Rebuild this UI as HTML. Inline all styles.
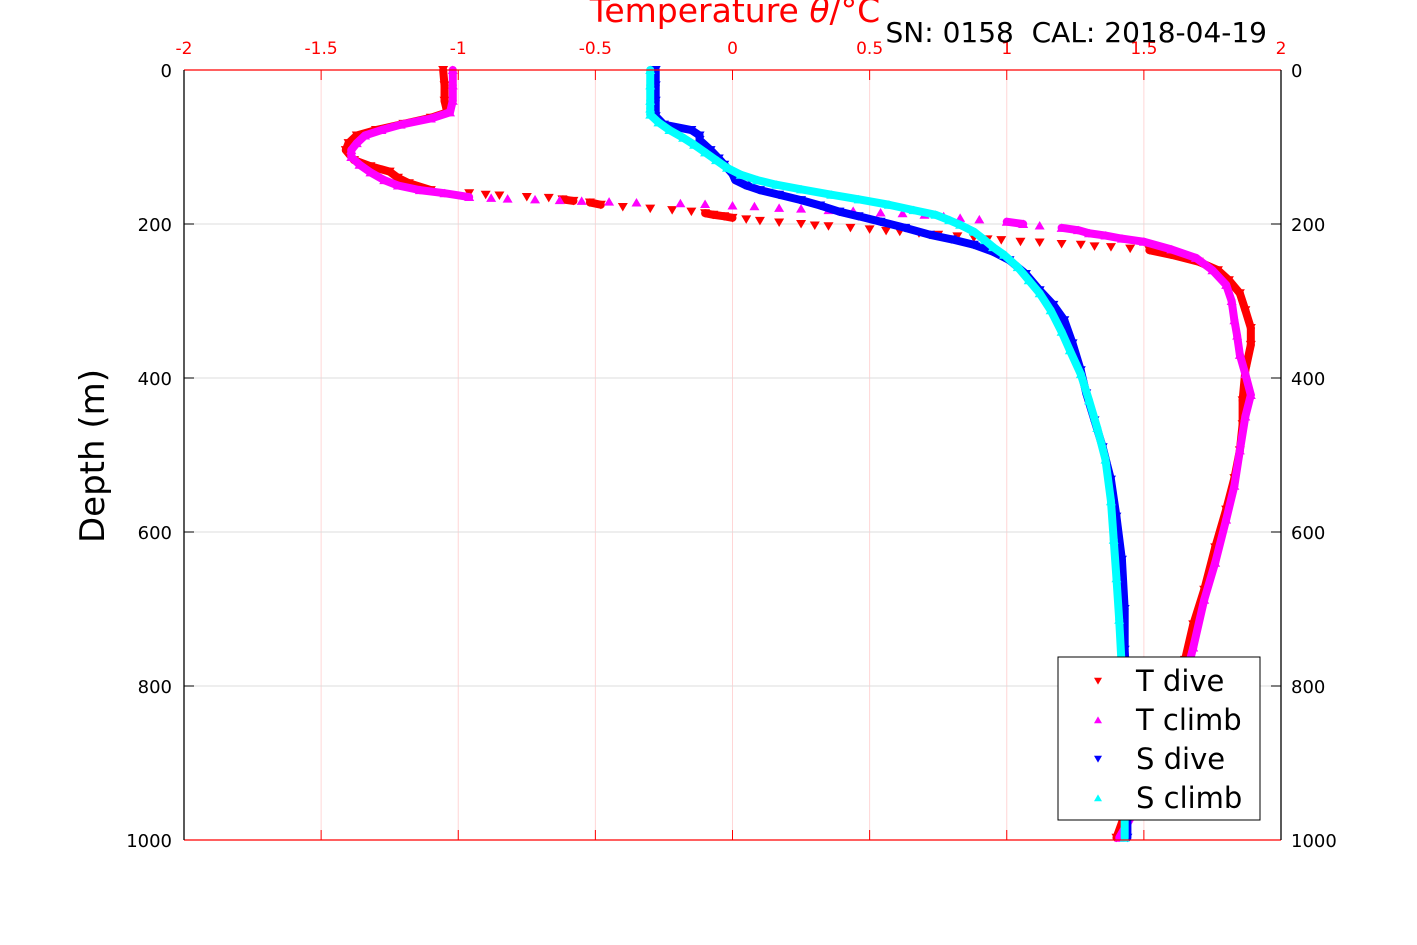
<!DOCTYPE html>
<html><head><meta charset="utf-8"><style>
html,body{margin:0;padding:0;background:#fff;}
svg{display:block;font-family:"DejaVu Sans","Liberation Sans",sans-serif;}
</style></head><body>
<svg id="chart" width="1417" height="945" viewBox="0 0 1417 945">
<g id="grid"></g>
<g id="series"></g>
<g id="axes"></g>
<text x="735" y="22" text-anchor="middle" font-size="33" fill="#ff0000">Temperature <tspan font-style="italic">θ</tspan>/°C</text>
<text x="1267" y="42" text-anchor="end" font-size="28" fill="#000" style="white-space:pre">SN: 0158  CAL: 2018-04-19</text>
<text transform="translate(104,456) rotate(-90)" text-anchor="middle" font-size="34" fill="#000">Depth (m)</text>
<g>
<rect x="1058" y="657" width="202" height="163" fill="#fff" stroke="#000" stroke-width="1"/>
<g id="legend-items"></g>
</g>
</svg>
<script>
const xTicks = [-2, -1.5, -1, -0.5, 0, 0.5, 1, 1.5, 2];
const xTickLabels = ["-2", "-1.5", "-1", "-0.5", "0", "0.5", "1", "1.5", "2"];
const yTicks = [0, 200, 400, 600, 800, 1000];
const yTickLabels = ["0", "200", "400", "600", "800", "1000"];
const seriesNames = ["T dive", "T climb", "S dive", "S climb"];
const tDiveDepth = [0,20,40,55,62,70,78,85,95,104,117,125,132,140,147,156,160,162,163,165,166,168,170,172,175,178,180,182,184,186,188,190,192,194,196,198,200,202,203,205,207,209,210,212,214,216,218,220,221,223,224,226,227,229,230,232,234,240,249,260,273,290,312,335,357,390,429,460,494,530,571,620,675,720,766,810,844,900,948,997];
const tDiveTemp = [-1.055,-1.05,-1.05,-1.04,-1.1,-1.2,-1.3,-1.37,-1.4,-1.41,-1.38,-1.32,-1.25,-1.22,-1.18,-1.1,-0.96,-0.9,-0.85,-0.75,-0.67,-0.62,-0.58,-0.52,-0.48,-0.4,-0.3,-0.22,-0.15,-0.1,-0.07,-0.03,0.0,0.05,0.1,0.17,0.25,0.3,0.35,0.43,0.5,0.56,0.61,0.68,0.75,0.82,0.88,0.93,0.98,1.05,1.12,1.2,1.27,1.32,1.38,1.45,1.52,1.6,1.7,1.77,1.81,1.85,1.87,1.89,1.89,1.87,1.86,1.86,1.85,1.83,1.8,1.76,1.72,1.68,1.65,1.61,1.56,1.5,1.45,1.4];
const tClimbDepth = [0,20,40,55,63,71,78,85,95,104,113,123,133,143,150,156,160,165,166,167,168,169,170,171,172,173,174,176,177,179,180,182,183,185,186,188,190,192,194,197,200,202,205,208,212,215,219,223,233,244,260,279,300,325,345,370,395,422,450,494,540,584,640,688,750,818,870,922,960,997];
const tClimbTemp = [-1.02,-1.02,-1.02,-1.03,-1.1,-1.21,-1.28,-1.34,-1.37,-1.39,-1.39,-1.36,-1.32,-1.27,-1.22,-1.14,-1.05,-0.96,-0.88,-0.82,-0.72,-0.63,-0.55,-0.45,-0.35,-0.19,-0.1,0.0,0.08,0.17,0.25,0.35,0.44,0.54,0.62,0.7,0.77,0.83,0.9,1.0,1.06,1.12,1.2,1.26,1.3,1.36,1.42,1.5,1.6,1.69,1.75,1.8,1.82,1.83,1.84,1.85,1.87,1.89,1.87,1.85,1.83,1.8,1.76,1.72,1.68,1.63,1.58,1.52,1.47,1.41];
const sDiveDepth = [0,20,40,60,71,78,85,91,104,115,123,135,143,150,156,162,169,176,184,190,197,205,214,220,227,236,247,265,286,305,325,355,390,420,455,490,532,580,636,700,753,820,883,940,997];
const sDiveTemp = [-0.28,-0.28,-0.28,-0.28,-0.25,-0.15,-0.12,-0.12,-0.08,-0.05,-0.03,0.0,0.01,0.05,0.1,0.17,0.25,0.32,0.39,0.46,0.54,0.63,0.72,0.8,0.88,0.95,1.01,1.07,1.12,1.17,1.21,1.24,1.27,1.29,1.32,1.35,1.38,1.4,1.42,1.43,1.43,1.44,1.44,1.44,1.44];
const sClimbDepth = [0,20,40,50,58,68,78,88,97,107,117,127,136,143,149,155,162,168,175,182,188,195,201,210,221,230,240,256,273,290,312,340,364,395,429,465,506,560,610,660,714,780,844,920,997];
const sClimbTemp = [-0.3,-0.3,-0.3,-0.3,-0.3,-0.27,-0.23,-0.18,-0.14,-0.1,-0.06,-0.02,0.03,0.09,0.16,0.25,0.36,0.46,0.57,0.66,0.74,0.79,0.83,0.88,0.92,0.95,0.99,1.04,1.08,1.12,1.16,1.2,1.23,1.27,1.3,1.33,1.36,1.38,1.39,1.4,1.41,1.42,1.42,1.43,1.43];

const X0=184, X1=1281, Y0=70, Y1=840;
function xScale(v){return X0+(v-(-2))/(2-(-2))*(X1-X0);}
function yScale(d){return Y0+(d-0)/(1000-0)*(Y1-Y0);}
const NS="http://www.w3.org/2000/svg";
function mk(tag,attrs,parent){const e=document.createElementNS(NS,tag);for(const k in attrs)e.setAttribute(k,attrs[k]);parent.appendChild(e);return e;}
const grid=document.getElementById('grid'), axes=document.getElementById('axes'), ser=document.getElementById('series');

xTicks.forEach((t,i)=>{
  const x=xScale(t);
  if(i>0&&i<xTicks.length-1){
    const g=mk('line',{x1:x,y1:Y0,x2:x,y2:Y1,stroke:'#ffd6d6','stroke-width':1},grid);
    
    
  }
  const tk=mk('line',{x1:x,y1:Y0,x2:x,y2:Y0+10,stroke:'#ff0000','stroke-width':1},axes);
  
  
  const tb=mk('line',{x1:x,y1:Y1,x2:x,y2:Y1-10,stroke:'#ff0000','stroke-width':1},axes);
  
  
  const lb=mk('text',{x:x,y:54,'text-anchor':'middle','font-size':17,fill:'#ff0000'},axes);
  lb.textContent=xTickLabels[i];
  
  
});
yTicks.forEach((t,i)=>{
  const y=yScale(t);
  if(i>0&&i<yTicks.length-1){
    const g=mk('line',{x1:X0,y1:y,x2:X1,y2:y,stroke:'#dcdcdc','stroke-width':1},grid);
    
    
  }
  const tl=mk('line',{x1:X0,y1:y,x2:X0+10,y2:y,stroke:'#000','stroke-width':1},axes);
  
  
  const tr=mk('line',{x1:X1,y1:y,x2:X1-10,y2:y,stroke:'#000','stroke-width':1},axes);
  
  
  const l1=mk('text',{x:172,y:y+7,'text-anchor':'end','font-size':18,fill:'#000'},axes);
  l1.textContent=yTickLabels[i];
  
  
  const l2=mk('text',{x:1291,y:y+7,'text-anchor':'start','font-size':18,fill:'#000'},axes);
  l2.textContent=yTickLabels[i];
  
  
});
const lines=[[X0,Y0,X1,Y0,'#ff0000','top-axis-line'],[X0,Y1,X1,Y1,'#ff0000','bottom-axis-line'],[X0,Y0,X0,Y1,'#000','left-axis-line'],[X1,Y0,X1,Y1,'#000','right-axis-line']];
lines.forEach(l=>{
  const e=mk('line',{x1:l[0],y1:l[1],x2:l[2],y2:l[3],stroke:l[4],'stroke-width':1.3},axes);
  
  
});

function tri(x,y,down,s){return down?`${x-s},${y-s*0.8} ${x+s},${y-s*0.8} ${x},${y+s*0.9}`:`${x-s},${y+s*0.8} ${x+s},${y+s*0.8} ${x},${y-s*0.9}`;}
function drawSeries(depths,temps,color,down,name){
  const g=mk('g',{},ser);
  
  
  const pts=depths.map((d,i)=>[xScale(temps[i]),yScale(d)]);
  for(let i=1;i<pts.length;i++){
    const dx=Math.abs(pts[i][0]-pts[i-1][0]);
    const dy=Math.abs(pts[i][1]-pts[i-1][1])+0.01;
    if(dx<45 && dx/dy<8){
      mk('line',{x1:pts[i-1][0],y1:pts[i-1][1],x2:pts[i][0],y2:pts[i][1],stroke:color,'stroke-width':8,'stroke-linecap':'round'},g);
    }
  }
  pts.forEach(p=>{
    const m=mk('polygon',{points:tri(p[0],p[1],down,5),fill:color},g);
    
    
  });
}
drawSeries(tDiveDepth,tDiveTemp,'#ff0000',true,'t-dive-series');
drawSeries(tClimbDepth,tClimbTemp,'#ff00ff',false,'t-climb-series');
drawSeries(sDiveDepth,sDiveTemp,'#0000ff',true,'s-dive-series');
drawSeries(sClimbDepth,sClimbTemp,'#00ffff',false,'s-climb-series');

const lcolors=['#ff0000','#ff00ff','#0000ff','#00ffff'];
const ldown=[true,false,true,false];
const li=document.getElementById('legend-items');
seriesNames.forEach((n,i)=>{
  const y=681+i*39;
  const g=mk('g',{},li);
  
  
  mk('polygon',{points:tri(1098,y,ldown[i],4),fill:lcolors[i]},g);
  const t=mk('text',{x:1136,y:y+10,'font-size':29,fill:'#000'},g);
  t.textContent=n;
});
</script>
</body></html>
